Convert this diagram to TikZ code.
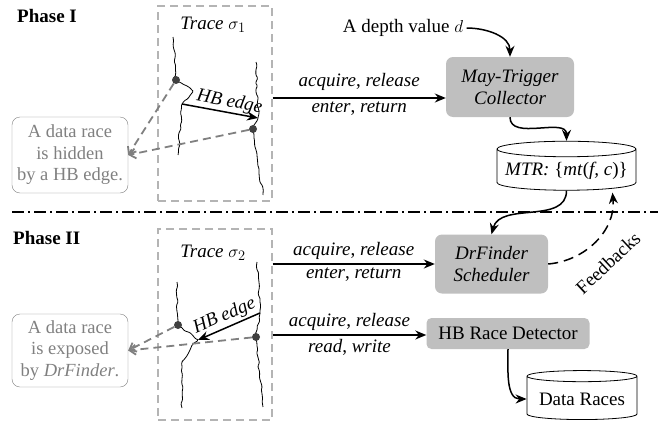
\documentclass[tikz,border=0pt]{standalone}
\usepackage{fontspec}
\setmainfont{Liberation Serif}
\usetikzlibrary{arrows.meta,shapes.geometric,decorations.pathmorphing,positioning,calc}
\definecolor{boxgray}{HTML}{BFBFBF}
\definecolor{notegray}{HTML}{808080}
\definecolor{framegray}{HTML}{B4B4B4}
\definecolor{dotgray}{HTML}{404040}
\begin{document}
\begin{tikzpicture}[x=1pt, y=-1pt, font=\fontsize{19}{22}\selectfont]
    \tikzstyle{phase} = [font=\fontsize{19}{22}\selectfont\bfseries, anchor=west, inner sep=0pt]
    \tikzstyle{tracebox} = [rectangle, draw=framegray, dash pattern=on 8pt off 5pt, line width=1.3pt, minimum width=114pt]
    \tikzstyle{stage} = [rectangle, rounded corners=7pt, fill=boxgray, align=center, font=\fontsize{19}{22}\selectfont\itshape]
    \tikzstyle{note} = [rectangle, rounded corners=8pt, draw=notegray, text=notegray, align=center, minimum width=116pt, font=\fontsize{18.5}{21.5}\selectfont]
    \tikzstyle{store} = [cylinder, shape border rotate=90, draw, aspect=0.12, line width=0.8pt]
    \tikzstyle{flow} = [-{Stealth[length=11pt,width=9pt]}, line width=1.5pt]
    \tikzstyle{race} = [-{Straight Barb[length=6pt,width=10pt]}, draw=notegray, line width=1.8pt, dash pattern=on 8pt off 5pt]
    \tikzstyle{thread} = [line width=0.8pt, decorate, decoration={random steps, segment length=4pt, amplitude=1.2pt}, rounded corners=1pt]
    \tikzstyle{event} = [circle, fill=dotgray, inner sep=0pt, minimum size=8pt]
    \pgfmathsetseed{7}
    \useasboundingbox (0,0) rectangle (670,426);

    % Phase I
    \node [phase] (ph1) at (17,16) {Phase I};
    \node [tracebox, minimum height=195pt] (trace1) at (215,103.5) {};
    \node (t1name) at (213,25) {\textit{Trace} $\sigma_1$};
    \coordinate (t1l0) at (173,37);
    \coordinate (e1p) at (176,80);
    \coordinate (t1l1) at (193,91);
    \coordinate (hb1s) at (182,104);
    \coordinate (t1l2) at (178,155);
    \coordinate (t1r0) at (256,62);
    \coordinate (hb1e) at (258,118);
    \coordinate (e2p) at (253,129);
    \coordinate (t1r1) at (263,195);
    \draw [thread] (t1l0) -- (e1p) -- (t1l1) -- (hb1s) -- (t1l2);
    \draw [thread] (t1r0) -- (hb1e) -- (e2p) -- (t1r1);
    \node [event] (e1) at (e1p) {};
    \node [event] (e2) at (e2p) {};
    \draw [flow] (hb1s) -- node [pos=0.6, sloped, above, inner sep=1pt] {\textit{HB edge}} (hb1e);
    \node [note, minimum height=76pt] (hid1) at (70,155) {A data race\\is hidden\\by a HB edge.};
    \draw [race] (e1) -- (hid1.east);
    \draw [race] (e2) -- (hid1.east);

    \node (depth) at (403,28) {A depth value $d$};
    \node [stage, minimum width=128pt, minimum height=60pt] (mtc) at (510,87) {May-Trigger\\Collector};
    \node [store, minimum width=139pt, minimum height=49pt] (mtr) at (566.5,171) {\textit{MTR:} \{\textit{mt}(\textit{f, c})\}};
    \draw [flow] (trace1.east |- 0,98) -- node [above=3pt] {\textit{acquire}, \textit{release}} node [below] {\textit{enter}, \textit{return}} ([yshift=-11pt]mtc.west);
    \draw [flow] (depth.east) to [out=0, in=90] (mtc.north);
    \draw [flow] (mtc.south) to [out=-90, in=90] (mtr.north);

    % separator
    \coordinate (sepl) at (12,212);
    \coordinate (sepr) at (658,212);
    \draw [line width=1.3pt, dash pattern=on 12pt off 4pt on 2pt off 4pt] (sepl) -- (sepr);

    % Phase II
    \node [phase] (ph2) at (13,238) {Phase II};
    \node [tracebox, minimum height=191pt] (trace2) at (215,324.5) {};
    \node (t2name) at (213,253) {\textit{Trace} $\sigma_2$};
    \coordinate (t2l0) at (177,282);
    \coordinate (e3p) at (178,325);
    \coordinate (hb2e) at (198,340);
    \coordinate (t2l1) at (193,344);
    \coordinate (t2l2) at (182,362);
    \coordinate (t2l3) at (182,408);
    \coordinate (t2r0) at (257,262);
    \coordinate (hb2s) at (260,313);
    \coordinate (e4p) at (256,337);
    \coordinate (t2r1) at (263,407);
    \draw [thread] (t2l0) -- (e3p) -- (hb2e) -- (t2l1) -- (t2l2) -- (t2l3);
    \draw [thread] (t2r0) -- (hb2s) -- (e4p) -- (t2r1);
    \node [event] (e3) at (e3p) {};
    \node [event] (e4) at (e4p) {};
    \draw [flow, {Stealth[length=11pt,width=9pt]}-] (hb2e) -- node [sloped, above, inner sep=2pt] {\textit{HB edge}} (hb2s);
    \node [note, minimum height=73pt] (hid2) at (70,350.5) {A data race\\is exposed\\by \textit{DrFinder}.};
    \draw [race] (e3) -- (hid2.east);
    \draw [race] (e4) -- (hid2.east);

    \node [stage, minimum width=113pt, minimum height=59pt] (drf) at (491.5,264) {DrFinder\\Scheduler};
    \node [stage, font=\fontsize{19}{22}\selectfont\upshape, minimum width=163pt, minimum height=31pt, rounded corners=5pt] (hbd) at (508,333.5) {HB Race Detector};
    \node [store, minimum width=110pt, minimum height=49pt] (races) at (582,399) {Data Races};
    \draw [flow] (trace2.east |- drf) -- node [above] {\textit{acquire}, \textit{release}} node [below] {\textit{enter}, \textit{return}} (drf.west);
    \draw [flow] (trace2.east |- 0,335) -- node [above] {\textit{acquire}, \textit{release}} node [below] {\textit{read}, \textit{write}} (hbd.west |- 0,335);
    \draw [flow] (mtr.south) to [out=-90, in=75] (drf.north);
    \coordinate (fb) at ($(mtr.south)+(46,2)$);
    \draw [flow, dash pattern=on 10pt off 6pt] (drf.east) to [out=5, in=-85] (fb);
    \node [rotate=43] (fbname) at (608,263) {Feedbacks};
    \draw [flow] (hbd.south) to [out=-90, in=180] (races.west);
\end{tikzpicture}
\end{document}
